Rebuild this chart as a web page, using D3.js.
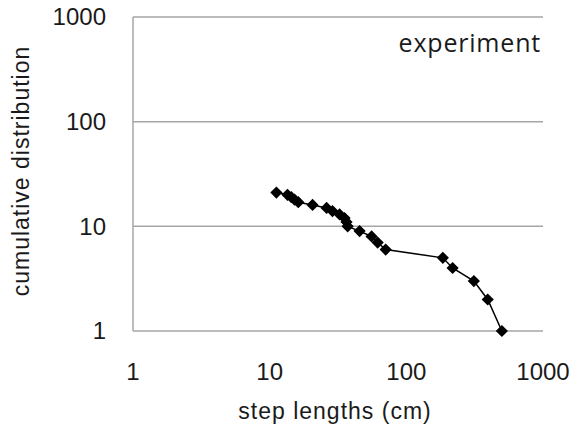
<!DOCTYPE html>
<html>
<head>
<meta charset="utf-8">
<script src="https://cdn.jsdelivr.net/npm/d3@7"></script>
<style>
body { margin: 0; background: #fff; }
.tick-label { font-family: "Liberation Sans", Arial, sans-serif; font-size: 24px; fill: #1a1a1a; }
.axis-title { font-family: "Liberation Sans", Arial, sans-serif; font-size: 23px; letter-spacing: 1px; fill: #1a1a1a; }
.note { font-family: "Open Sans", "Noto Sans", sans-serif; font-size: 25px; letter-spacing: 0.8px; fill: #1a1a1a; }
</style>
</head>
<body>
<script>
var w = 581;
var h = 430;

// step lengths (cm), sorted, with their cumulative counts
var stepLengths = [11.2, 13.5, 14.4, 15.2, 16.2, 20.6, 26.1, 28.8, 32.5, 35.3, 36.5, 37.2, 45.5, 55.7, 61.7, 70.6, 185, 218, 312, 394, 500];
var cumulative = [21, 20, 19, 18, 17, 16, 15, 14, 13, 12, 11, 10, 9, 8, 7, 6, 5, 4, 3, 2, 1];

var xTicks = [1, 10, 100, 1000];
var yTicks = [1, 10, 100, 1000];

var dataset = stepLengths.map(function(d, i) { return [d, cumulative[i]]; });

var margin = { left: 133, top: 17, right: 38, bottom: 99 };
var pw = w - margin.left - margin.right;
var ph = h - margin.top - margin.bottom;

var x = d3.scaleLog().domain([1, 1000]).range([0, pw]);
var y = d3.scaleLog().domain([1, 1000]).range([ph, 0]);

var svg = d3.select('body')
	.append('svg')
	.attr('width', w)
	.attr('height', h);

var g = svg.append('g')
	.attr('transform', 'translate(' + margin.left + ',' + margin.top + ')');

// horizontal grid lines
g.selectAll('line.grid')
	.data(yTicks)
	.enter()
	.append('line')
	.attr('class', 'grid')
	.attr('x1', 0)
	.attr('x2', pw)
	.attr('y1', function(d) { return y(d); })
	.attr('y2', function(d) { return y(d); })
	.attr('stroke', '#a6a6a6')
	.attr('stroke-width', 1.5);

// left axis line
g.append('line')
	.attr('x1', 0).attr('x2', 0)
	.attr('y1', 0).attr('y2', ph)
	.attr('stroke', '#a6a6a6')
	.attr('stroke-width', 1.5);

// tick labels
g.selectAll('text.ylab')
	.data(yTicks)
	.enter()
	.append('text')
	.attr('class', 'tick-label ylab')
	.attr('x', -27)
	.attr('y', function(d) { return y(d); })
	.attr('dy', '0.35em')
	.attr('text-anchor', 'end')
	.text(function(d) { return d; });

g.selectAll('text.xlab')
	.data(xTicks)
	.enter()
	.append('text')
	.attr('class', 'tick-label xlab')
	.attr('x', function(d) { return x(d); })
	.attr('y', ph + 49)
	.attr('text-anchor', 'middle')
	.text(function(d) { return d; });

// axis titles
svg.append('text')
	.attr('class', 'axis-title')
	.attr('x', 335)
	.attr('y', 419)
	.attr('text-anchor', 'middle')
	.text('step lengths (cm)');

svg.append('text')
	.attr('class', 'axis-title')
	.attr('transform', 'translate(29,171) rotate(-90)')
	.attr('text-anchor', 'middle')
	.text('cumulative distribution');

svg.append('text')
	.attr('class', 'note')
	.attr('x', 541)
	.attr('y', 52)
	.attr('text-anchor', 'end')
	.text('experiment');

// series
var line = d3.line()
	.x(function(d) { return x(d[0]); })
	.y(function(d) { return y(d[1]); });

g.append('path')
	.datum(dataset)
	.attr('d', line)
	.attr('fill', 'none')
	.attr('stroke', '#000')
	.attr('stroke-width', 1.5);

var diamond = d3.symbol().type(d3.symbolDiamond2).size(95);

g.selectAll('path.pt')
	.data(dataset)
	.enter()
	.append('path')
	.attr('class', 'pt')
	.attr('d', diamond)
	.attr('transform', function(d) { return 'translate(' + x(d[0]) + ',' + y(d[1]) + ')'; })
	.attr('fill', '#000');
</script>
</body>
</html>
